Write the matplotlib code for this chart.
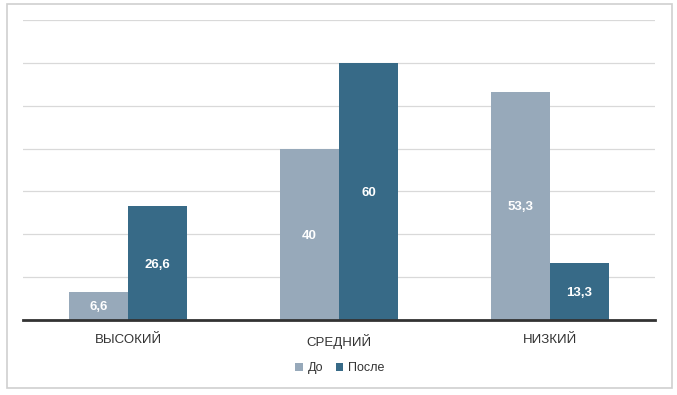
import numpy as np
import matplotlib
matplotlib.use("Agg")
import matplotlib.pyplot as plt
from matplotlib.patches import Rectangle

categories = ["ВЫСОКИЙ", "СРЕДНИЙ", "НИЗКИЙ"]
series_names = ["До", "После"]
before = [6.6, 40, 53.3]
after = [26.6, 60, 13.3]
labels_before = ["6,6", "40", "53,3"]
labels_after = ["26,6", "60", "13,3"]

c_before = "#97a9ba"
c_after = "#376a87"

plt.rcParams["font.family"] = ["Liberation Sans", "DejaVu Sans"]

fig = plt.figure(figsize=(6.77, 3.95), dpi=100)
fig.patches.append(Rectangle((7 / 677, 1 - 388 / 395), 665 / 677, 384 / 395,
                             transform=fig.transFigure, fill=False,
                             edgecolor="#cfcfcf", lw=1.2))
ax = fig.add_axes([23 / 677, 1 - 320 / 395, 632 / 677, 300 / 395])

x = np.arange(len(categories))
w = 0.28
b1 = ax.bar(x - w / 2, before, w, color=c_before, label=series_names[0], zorder=3)
b2 = ax.bar(x + w / 2, after, w, color=c_after, label=series_names[1], zorder=3)

for bars, labs in ((b1, labels_before), (b2, labels_after)):
    for r, lab in zip(bars, labs):
        ax.text(r.get_x() + r.get_width() / 2, r.get_height() / 2, lab,
                ha="center", va="center_baseline", color="white", fontsize=9.5,
                fontweight="bold", zorder=4)

ax.set_xlim(-0.5, 2.5)
ax.set_ylim(0, 70)
ax.set_yticks(np.arange(0, 71, 10))
ax.set_yticklabels([])
ax.tick_params(axis="y", length=0)
ax.tick_params(axis="x", length=0, pad=10, labelsize=9.5, labelcolor="#333333")
ax.set_xticks(x)
ax.set_xticklabels(categories)
ax.grid(axis="y", color="#d9d9d9", lw=0.9, zorder=0)
for s in ("top", "right", "left"):
    ax.spines[s].set_visible(False)
ax.spines["bottom"].set_color("#333333")
ax.spines["bottom"].set_linewidth(2)
ax.spines["bottom"].set_zorder(5)

fig.legend(loc="center", bbox_to_anchor=(340 / 677, 1 - 368 / 395), ncol=2,
           frameon=False, fontsize=9, handlelength=0.6, handleheight=0.6,
           handletextpad=0.4, columnspacing=1.0, labelcolor="#333333")

fig.savefig("out.png", dpi=100)
